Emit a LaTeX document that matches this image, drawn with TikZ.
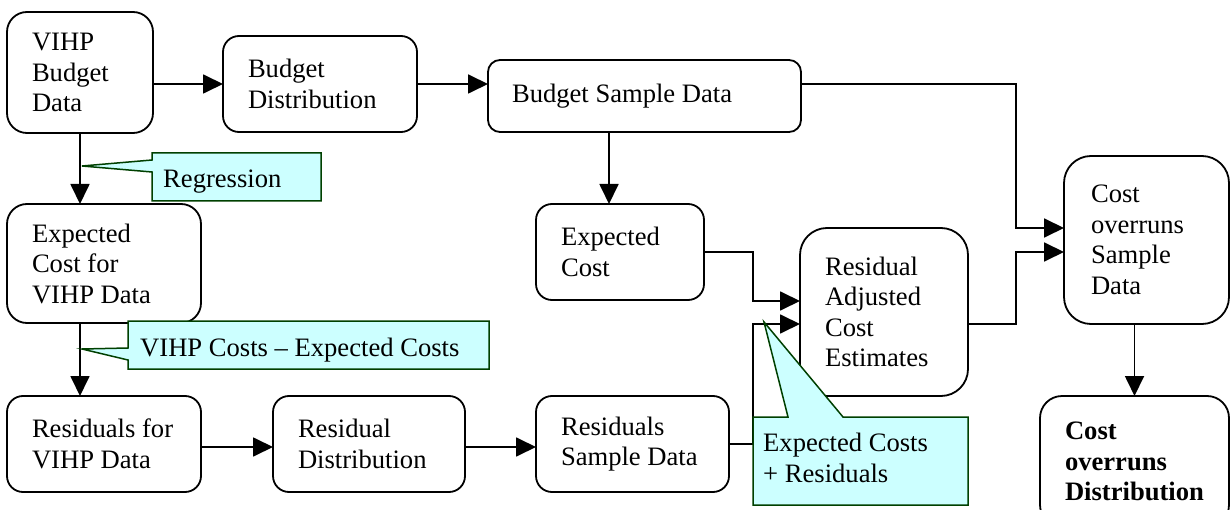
\documentclass[tikz,border=0pt]{standalone}
\usepackage{fontspec}
\setmainfont{Liberation Serif}
\usetikzlibrary{arrows.meta}
\definecolor{noteFill}{RGB}{204,255,255}
\definecolor{noteEdge}{RGB}{0,64,0}
\begin{document}
\begin{tikzpicture}[x=1pt,y=-1pt,
  txt/.style={font=\fontsize{26.6pt}{30.5pt}\selectfont},
  flowbox/.style={txt, draw, line width=1.8pt, rounded corners=#1, anchor=north west,
    outer sep=0pt, inner xsep=25pt, inner ysep=0pt, align=flush left},
  conn/.style={line width=1.8pt, -{Triangle[length=20pt,width=19pt]}},
  note/.style={fill=noteFill, draw=noteEdge, line width=1.5pt, line join=miter},
  notetext/.style={txt, inner sep=0pt, align=flush left},
]
\clip (0,0) rectangle (1230,510);
\fill[white] (0,0) rectangle (1230,510);

% process boxes
\node[flowbox=20pt, text width=96pt, minimum height=121pt] (vihp) at (7,12) {VIHP\\Budget\\Data};
\node[flowbox=16pt, text width=144pt, minimum height=96pt] (bdist) at (223,36) {Budget\\Distribution};
\node[flowbox=12pt, inner xsep=24pt, text width=265pt, minimum height=72pt] (bsamp) at (488,60) {Budget Sample Data};
\node[flowbox=20pt, text width=144pt, minimum height=119pt] (ecvihp) at (7,204) {Expected\\Cost for\\VIHP Data};
\node[flowbox=16pt, text width=144pt, minimum height=96pt] (resvihp) at (7,396) {Residuals for\\VIHP Data};
\node[flowbox=16pt, text width=142pt, minimum height=96pt] (resdist) at (273,396) {Residual\\Distribution};
\node[flowbox=16pt, text width=143pt, minimum height=96pt] (ressamp) at (536,396) {Residuals\\Sample Data};
\node[flowbox=16pt, text width=118pt, minimum height=96pt] (ecost) at (536,204) {Expected\\Cost};
\node[flowbox=27pt, text width=118pt, minimum height=168pt] (radj) at (800,228) {Residual\\Adjusted\\Cost\\Estimates};
\node[flowbox=27pt, inner xsep=27pt, text width=111pt, minimum height=168pt] (cosamp) at (1064,156) {Cost\\overruns\\Sample\\Data};
\node[flowbox=22pt, text width=139pt, minimum height=131pt,
  font={\fontsize{26.6pt}{30.5pt}\selectfont\bfseries}] (codist) at (1040,396) {Cost\\overruns\\Distribution};

% straight connectors
\draw[conn] (vihp.east |- bdist.west) -- (bdist.west);
\draw[conn] (bdist.east) -- (bdist.east -| bsamp.west);
\coordinate (ecIn) at ([xshift=73pt]ecost.north west);
\draw[conn] (ecIn |- bsamp.south) -- (ecIn);
\draw[conn] (vihp.south) -- (vihp.south |- ecvihp.north);
\draw[conn] (vihp.south |- ecvihp.south) -- (vihp.south |- resvihp.north);
\draw[conn] ([yshift=-3pt]resvihp.east) -- ([yshift=-3pt]resdist.west);
\draw[conn] ([yshift=-3pt]resdist.east) -- ([yshift=-3pt]ressamp.west);
\draw[conn] (cosamp.south -| codist.north) -- (codist.north);

% elbow connectors into the residual-adjusted estimates
\coordinate (radjHi) at ([yshift=11pt]radj.west);
\coordinate (radjLo) at ([yshift=-12pt]radj.west);
\coordinate (radjBus) at ([xshift=-47pt]radj.west);
\draw[conn] (ecost.east) -- (ecost.east -| radjBus) -- (radjBus |- radjHi) -- (radjHi);
\draw[conn] (ressamp.east) -- (ressamp.east -| radjBus) -- (radjBus |- radjLo) -- (radjLo);

% elbow connectors into the cost overrun sample
\coordinate (coHi) at ([yshift=12pt]cosamp.west);
\coordinate (coLo) at ([yshift=-12pt]cosamp.west);
\coordinate (coBus) at ([xshift=-48pt]cosamp.west);
\coordinate (bsOut) at ([yshift=12pt]bsamp.east);
\coordinate (radjOut) at ([yshift=-12pt]radj.east);
\draw[conn] (bsOut) -- (bsOut -| coBus) -- (coBus |- coHi) -- (coHi);
\draw[conn] (radjOut) -- (radjOut -| coBus) -- (coBus |- coLo) -- (coLo);

% callouts
\draw[note] (152,153) -- (321,153) -- (321,201) -- (152,201) -- (152,172) -- (82,166) -- (152,160) -- cycle;
\node[notetext, anchor=base west] (nreg) at (163,188) {Regression};
\draw[note] (128,321) -- (489,321) -- (489,369) -- (128,369) -- (128,360) -- (82,349) -- (128,348) -- cycle;
\node[notetext, anchor=base west] (nres) at (140,356) {VIHP Costs – Expected Costs};
\draw[note] (753,417) -- (788,417) -- (764,322) -- (843,417) -- (968,417) -- (968,505) -- (753,505) -- cycle;
\node[notetext, anchor=west] (nsum) at (763,458) {Expected Costs\\+ Residuals};
\end{tikzpicture}
\end{document}
